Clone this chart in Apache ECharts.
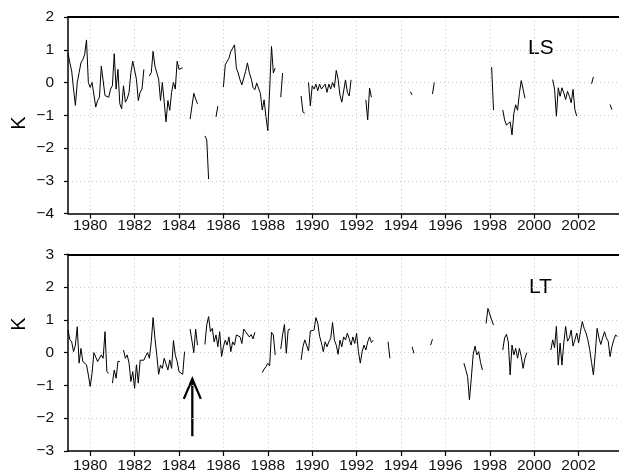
<!DOCTYPE html>
<html>
<head>
<meta charset="utf-8">
<script src="https://cdn.jsdelivr.net/npm/echarts@6/dist/echarts.min.js"></script>
<style>
html,body{margin:0;padding:0;background:#fff;overflow:hidden;width:619px;height:474px;}
#c{width:640px;height:474px;}
</style>
</head>
<body>
<div id="c"></div>
<script>
// ---- data ----
const START_YEAR = 1979;          // month index 0 = Jan 1979
const xMin = 1979, xMax = 2004;
const xTicks = [1980,1982,1984,1986,1988,1990,1992,1994,1996,1998,2000,2002];
const lsRange = [-4, 2];
const ltRange = [-3, 3];
const panelNames = ['LS', 'LT'];
const unitName = 'K';
const arrowYear = 1984.6;          // arrow marking the event in LT panel
const arrowFrom = -2.55, arrowTo = -0.8;

// [start month index, monthly anomalies (K)]
const lsSegments = [
  [0,  [0.9,0.6,0.35,-0.2,-0.7,0.0,0.3,0.6,0.7,0.85,1.3,0.0,-0.15,0.0,-0.05,-0.75,-0.55,-0.45,0.5,0.5,-0.4,-0.4,-0.45,-0.2,-0.1,0.88,-0.2,0.4,-0.65,-0.8,-0.1,-0.6,-0.5,-0.3,0.3,0.65,0.65,0.1,-0.55,-0.3,-0.2,0.4]],
  [44, [0.2,0.3,0.95,0.5,0.45,0.1,-0.55,0.0,-0.6,-1.2,-0.55,-0.85,-0.3,0.0,-0.2,0.65,0.4,0.45,0.45]],
  [66, [-1.12,-1.12,-0.33,-0.5,-0.65]],
  [74, [-1.63,-1.75,-2.95]],
  [80, [-1.05,-0.72]],
  [84, [-0.14,0.54,0.64,0.74,0.95,1.05,1.15,0.44,0.29,0.08,-0.07,-0.04,0.34,0.6,0.3,0.13,-0.15,-0.22,-0.02,-0.04,-0.33,-0.84,-0.53,-1.04,-1.47,-0.22,1.1,0.29,0.44]],
  [115,[-0.45,0.29]],
  [126,[-0.41,-0.9,-0.94]],
  [130,[0.0,-0.71,-0.1,-0.2,-0.05,-0.25,-0.05,-0.2,-0.25,-0.05,-0.3,-0.05,-0.2,0.0,-0.15,0.37,0.1,-0.38,-0.6,-0.63,0.08,-0.3,-0.41,0.08]],
  [161,[-0.53,-1.14,-0.17,-0.45]],
  [185,[-0.28,-0.38]],
  [197,[-0.35,0.0]],
  [229,[0.47,-0.84]],
  [235,[-0.84,-1.14,-1.3,-1.35,-1.2,-1.6,-0.94,-0.68,-0.85,-0.33,0.06,-0.2,-0.48]],
  [262,[0.09,-0.2,-1.03,-0.16,-0.42,-0.16,-0.32,-0.52,-0.27,-0.42,-0.62,-0.21,-0.83,-1.03]],
  [283,[-0.04,0.17]],
  [293,[-0.67,-0.83]]
];
const ltSegments = [
  [0,  [0.69,0.4,0.33,0.03,0.23,0.79,-0.32,0.13,-0.27,-0.22,-0.37,-0.68,-1.03,-0.63,0.0,-0.03,-0.27,-0.32,-0.07,-0.17,0.64,-0.58,-0.63]],
  [24, [-0.93,-0.53,-0.78,-0.27,-0.27]],
  [30, [0.08,-0.17,-0.07,-0.32,-0.88,-0.58,-1.09,-0.37,-0.93,-0.23,-0.17,-0.23,-0.1,0.0,-0.17,0.33,1.07,0.44,-0.08,-0.66,-0.38,-0.48,-0.17,-0.22,-0.53,-0.22,-0.48,0.37,-0.08,-0.27,-0.58,-0.63,-0.66,0.03]],
  [66, [0.72,0.72,0.0,0.72,0.23]],
  [74, [0.25,0.85,1.1,0.64,0.74,0.33,0.54,0.18,0.64,-0.12,0.18,0.38,0.23,0.48,0.03,0.33,0.23,0.54,0.59,0.48,0.28,0.72,0.64,0.59,0.48,0.55,0.42,0.62]],
  [105,[-0.61,-0.5,-0.43,-0.33,-0.4,0.62,0.54,-0.07]],
  [115,[0.11,0.54,0.86,-0.02,0.69,0.72]],
  [126,[-0.22,0.18,0.39,0.33,0.05,0.66,0.62,0.69,1.07,0.9,0.5,0.3,0.03,0.33,0.18,0.33,0.43,0.92,0.38,0.23,-0.05,0.38,0.18,0.48,0.39,0.59,0.43,0.23,0.48,0.28,0.59,0.03,-0.32,0.03,0.23,0.08,0.33,0.48,0.31,0.38]],
  [173,[0.33,-0.17]],
  [186,[0.18,-0.02]],
  [196,[0.23,0.41]],
  [214,[-0.32,-0.52,-0.73,-1.44,-0.78,-0.07,0.2,-0.07,0.03,-0.3,-0.53]],
  [226,[0.89,1.35,1.37,1.0,0.84]],
  [235,[0.08,0.45,0.56,0.33,-0.68,0.23,-0.07,0.13,-0.17,0.13,-0.12,-0.48,-0.17,0.0]],
  [261,[0.08,0.39,0.15,0.8,-0.38,0.29,-0.38,0.3,0.8,0.35,0.45,0.69,0.2,0.39,0.6,0.3,0.64,0.95,0.74,0.6,0.39,0.1,-0.3,-0.68,-0.02,0.74,0.45,0.25,0.45,0.64,0.45,0.35,-0.12,0.18,0.39,0.54,0.49]]
];

// ---- build ----
function buildLine(segs){
  const out=[];
  segs.forEach(function(s,k){
    const start=s[0], vals=s[1];
    if(k>0) out.push([START_YEAR+(start-0.5)/12,'-']);
    vals.forEach(function(v,i){ out.push([START_YEAR+(start+i)/12, v]); });
  });
  return out;
}
const FONT='"Liberation Sans", Arial, Helvetica, sans-serif';
function minusFmt(v){ return v<0 ? '\u2212'+Math.abs(v) : String(v); }
const grids=[
  {left:68, top:17, width:555, height:196.5},
  {left:68, top:254.3, width:555, height:197.4}
];
function xAxisFor(i, margin){
  return {
    type:'value', gridIndex:i, min:xMin, max:xMax, position:'bottom',
    axisLine:{show:true, onZero:false, lineStyle:{color:'#000', width:1.5}},
    axisTick:{show:true, inside:false, length:5, customValues:xTicks, lineStyle:{color:'#000', width:1.2}},
    axisLabel:{show:true, customValues:xTicks, margin:margin, color:'#111', fontSize:15.5, fontFamily:FONT, formatter:function(v){return String(v);}},
    splitLine:{show:true, lineStyle:{color:'#c8c8c8', width:1, type:[1,3]}},
    z:3
  };
}
function xTopFor(i){
  return {
    type:'value', gridIndex:i, min:xMin, max:xMax, position:'top',
    axisLine:{show:true, onZero:false, lineStyle:{color:'#000', width:1.8}},
    axisTick:{show:false}, axisLabel:{show:false}, splitLine:{show:false}, z:4
  };
}
function yAxisFor(i, range){
  return {
    type:'value', gridIndex:i, min:range[0], max:range[1], interval:1,
    axisLine:{show:true, onZero:false, lineStyle:{color:'#000', width:1.5}},
    axisTick:{show:true, inside:false, length:4, lineStyle:{color:'#000', width:1.2}},
    axisLabel:{show:true, margin:14, color:'#111', fontSize:15.5, fontFamily:FONT, formatter:minusFmt},
    splitLine:{show:true, lineStyle:{color:'#c8c8c8', width:1, type:[1,3]}},
    z:3
  };
}
const chart=echarts.init(document.getElementById('c'), null, {renderer:'canvas'});
chart.setOption({
  animation:false,
  backgroundColor:'#fff',
  grid:grids,
  xAxis:[xAxisFor(0,4), xAxisFor(1,7), xTopFor(0), xTopFor(1)],
  yAxis:[yAxisFor(0,lsRange), yAxisFor(1,ltRange)],
  series:[
    {type:'line', xAxisIndex:0, yAxisIndex:0, data:buildLine(lsSegments), showSymbol:false, symbol:'none', connectNulls:false, lineStyle:{color:'#000', width:1}},
    {type:'line', xAxisIndex:1, yAxisIndex:1, data:buildLine(ltSegments), showSymbol:false, symbol:'none', connectNulls:false, lineStyle:{color:'#000', width:1}}
  ]
});
// annotations
const tip=chart.convertToPixel({xAxisIndex:1, yAxisIndex:1},[arrowYear, arrowTo]);
const tail=chart.convertToPixel({xAxisIndex:1, yAxisIndex:1},[arrowYear, arrowFrom]);
chart.setOption({
  graphic:[
    {type:'text', left:528, top:38, style:{text:panelNames[0], font:'21px '+FONT, fill:'#000'}},
    {type:'text', left:529, top:277, style:{text:panelNames[1], font:'21px '+FONT, fill:'#000'}},
    {type:'text', x:19, y:123, rotation:Math.PI/2, style:{text:unitName, font:'20px '+FONT, fill:'#000', align:'center', verticalAlign:'middle'}},
    {type:'text', x:19, y:324, rotation:Math.PI/2, style:{text:unitName, font:'20px '+FONT, fill:'#000', align:'center', verticalAlign:'middle'}},
    {type:'line', shape:{x1:tail[0], y1:tail[1], x2:tip[0], y2:tip[1]}, style:{stroke:'#000', lineWidth:2.3}},
    {type:'polyline', shape:{points:[[tip[0]-8.5, tip[1]+20],[tip[0], tip[1]],[tip[0]+8.5, tip[1]+20]]}, style:{stroke:'#000', lineWidth:2.3, fill:null}}
  ]
});
</script>
</body>
</html>
